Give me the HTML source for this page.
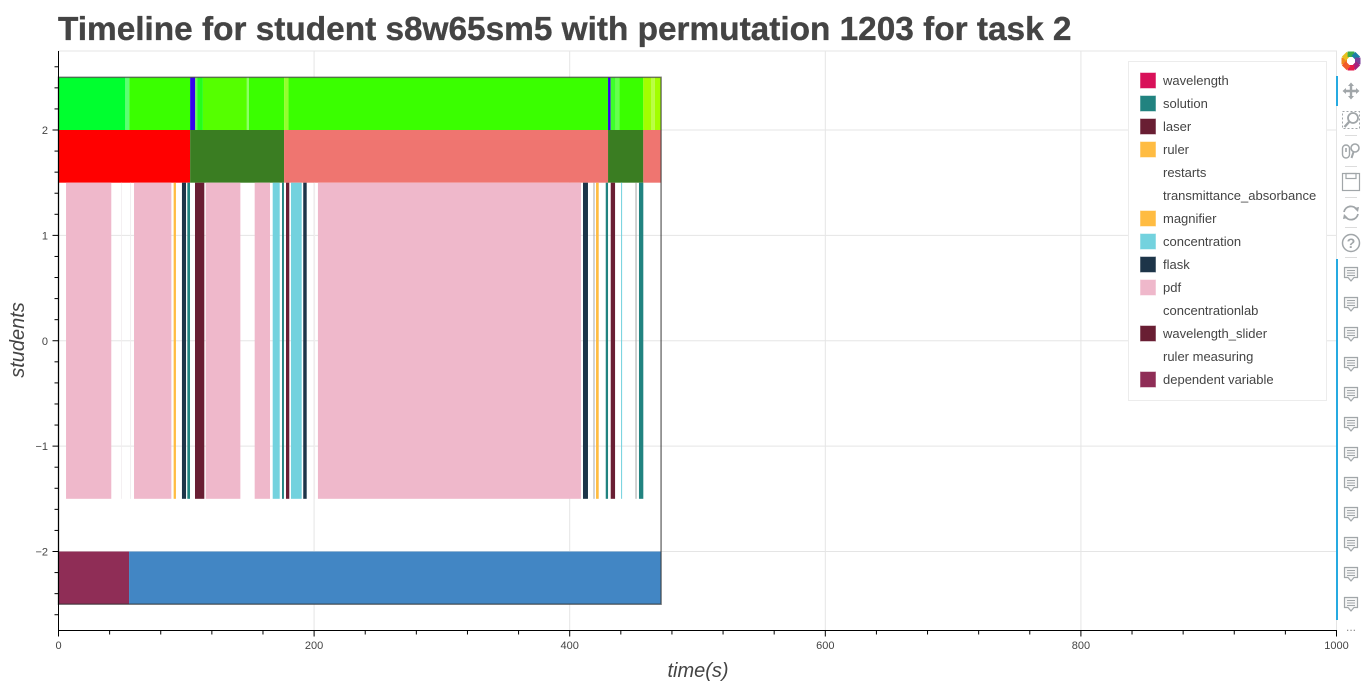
<!DOCTYPE html>
<html lang="en">
<head>
<meta charset="utf-8">
<title>Timeline for student s8w65sm5</title>
<style>
html,body{margin:0;padding:0;background:#fff;width:1366px;height:683px;overflow:hidden}
#chart{position:absolute;left:0;top:0;display:block}
text{font-family:"Liberation Sans",sans-serif}
</style>
</head>
<body>
<svg id="chart" width="1366" height="683" viewBox="0 0 1366 683" xmlns="http://www.w3.org/2000/svg">
<text x="58" y="40" font-size="33.36" font-weight="bold" fill="#444444" stroke="#444444" stroke-width="0.35">Timeline for student s8w65sm5 with permutation 1203 for task 2</text>
<g id="gridLayer"></g>
<g id="markLayer"></g>
<g id="axisLayer"></g>
<text x="698" y="677" font-size="20" font-style="italic" text-anchor="middle" fill="#444444">time(s)</text>
<text transform="translate(24 340) rotate(-90)" font-size="20" font-style="italic" text-anchor="middle" fill="#444444">students</text>
<g id="legendLayer"></g>
<g id="toolbar"></g>
</svg>
<script>
const xTickLabels = [0, 200, 400, 600, 800, 1000];
const yTickLabels = [-2, -1, 0, 1, 2];
const xMinorStep = 40;
const yMinorStep = 0.2;

const legendNames = ["wavelength","solution","laser","ruler","restarts","transmittance_absorbance","magnifier","concentration","flask","pdf","concentrationlab","wavelength_slider","ruler measuring","dependent variable"];

const activityStart = [5.9,59.1,115.2,153.5,203,49.1,56,200,418.6,451.5,90.1,420.6,96.6,191.5,410.4,100.8,174.9,428.2,454.2,106.8,432.1,178,167.6,181.9,440.2];
const activityEnd   = [41.3,88.3,142.3,165.5,408.8,49.7,56.7,200.8,419.4,452.3,91.9,422.7,99.8,194.2,414.3,102.9,176.4,430,457.6,114.1,435.5,180.6,173.1,190.3,441];
const activityName  = ["pdf","pdf","pdf","pdf","pdf","restarts","restarts","restarts","ruler measuring","ruler measuring","ruler","magnifier","flask","flask","flask","solution","solution","solution","solution","laser","laser","wavelength_slider","concentration","concentration","concentration"];

const familyStart = [0,103,176.5,430,457.6];
const familyEnd   = [103,176.5,430,457.6,471.5];
const familyName  = ["family-a","family-b","family-c","family-b","family-c"];

const stepStart = [0,52.3,55.4,103,107,108.5,113,147.4,149,176.5,180,430,432,436,439,457.6,463.6,466.7];
const stepEnd   = [52.3,55.4,103,107,108.5,113,147.4,149,176.5,180,430,432,436,439,457.6,463.6,466.7,471.5];
const stepName  = ["step-a","step-b","step-c","step-d","step-e","step-f","step-g","step-h","step-c","step-i","step-c","step-d","step-j","step-e","step-c","step-k","step-l","step-k"];

const taskStart = [0,55.2];
const taskEnd   = [55.2,471.5];
const taskName  = ["dependent variable","task-other"];

const colorOf = {
  "wavelength":"#d81159","solution":"#218380","laser":"#691e33","ruler":"#ffbc42","restarts":"#f1ecee",
  "transmittance_absorbance":"#ffffff","magnifier":"#ffbc42","concentration":"#73d2de","flask":"#1d3549",
  "pdf":"#efb8cb","concentrationlab":"#ffffff","wavelength_slider":"#691e33","ruler measuring":"#a9a9a9",
  "dependent variable":"#8f2d56","task-other":"#4286c4",
  "family-a":"#ff0000","family-b":"#3a7d22","family-c":"#ef7570",
  "step-a":"#00ff2f","step-b":"#5cff72","step-c":"#3aff00","step-d":"#3300ee","step-e":"#66ff4d","step-f":"#22ff1c",
  "step-g":"#55ff00","step-h":"#8cff66","step-i":"#92ff2e","step-j":"#3fff2a","step-k":"#a2ff00","step-l":"#baff44"
};
const noSwatch = ["restarts","transmittance_absorbance","concentrationlab","ruler measuring"];

const NS = "http://www.w3.org/2000/svg";
const plot = {left:58.5, right:1336.5, top:51, bottom:630.5};
function xScale(v){ return plot.left + v * 1.278; }
function yScale(v){ return 340.75 - v * 105.375; }
function make(tag, attrs, parent){
  const el = document.createElementNS(NS, tag);
  for (const k in attrs) el.setAttribute(k, attrs[k]);
  parent.appendChild(el);
  return el;
}
const gridLayer = document.getElementById("gridLayer");
const markLayer = document.getElementById("markLayer");
const axisLayer = document.getElementById("axisLayer");
const legendLayer = document.getElementById("legendLayer");
const toolbar = document.getElementById("toolbar");

/* frame + grid */
const frame = make("rect",{x:plot.left,y:plot.top,width:plot.right-plot.left,height:plot.bottom-plot.top,fill:"none",stroke:"#e5e5e5"},gridLayer);


xTickLabels.forEach(function(v){
  if (v === 0) return;
  const l = make("line",{x1:xScale(v),x2:xScale(v),y1:plot.top,y2:plot.bottom,stroke:"#e5e5e5"},gridLayer);
  
  
});
yTickLabels.forEach(function(v){
  const l = make("line",{x1:plot.left,x2:plot.right,y1:yScale(v),y2:yScale(v),stroke:"#e5e5e5"},gridLayer);
  
  
});

/* bars */
function drawRow(starts, ends, names, yLow, yHigh, rowName){
  starts.forEach(function(s,i){
    const r = make("rect",{x:xScale(s),width:xScale(ends[i])-xScale(s),y:yScale(yHigh),height:yScale(yLow)-yScale(yHigh),fill:colorOf[names[i]]},markLayer);
    
    
  });
}
drawRow(stepStart,stepEnd,stepName,2,2.5,'step-segment');
drawRow(familyStart,familyEnd,familyName,1.5,2,'family-segment');
drawRow(activityStart,activityEnd,activityName,-1.5,1.5,'activity-segment');
drawRow(taskStart,taskEnd,taskName,-2.5,-2,'task-segment');
const outline = make("rect",{x:xScale(0),y:yScale(2.5),width:xScale(471.5)-xScale(0),height:yScale(-2.5)-yScale(2.5),fill:"none",stroke:"#333333","stroke-opacity":"0.65","stroke-width":"1.5"},markLayer);



/* axes */
const xAxis = make("line",{x1:plot.left-0.5,x2:plot.right+0.5,y1:plot.bottom,y2:plot.bottom,stroke:"#000"},axisLayer);


const yAxis = make("line",{x1:plot.left,x2:plot.left,y1:plot.top,y2:plot.bottom,stroke:"#000"},axisLayer);


const xMinorCount = Math.round(1000 / xMinorStep);
for (let i = 0; i <= xMinorCount; i++){
  const v = i * xMinorStep;
  const major = xTickLabels.indexOf(v) >= 0;
  const t = make("line",{x1:xScale(v),x2:xScale(v),y1:plot.bottom,y2:plot.bottom+(major?6:4),stroke:"#000"},axisLayer);
  
  
}
for (let i = -13; i <= 13; i++){
  const v = i * yMinorStep;
  const major = i % 5 === 0;
  const t = make("line",{x1:plot.left,x2:plot.left-(major?6:4),y1:yScale(v),y2:yScale(v),stroke:"#000"},axisLayer);
  
  
}
xTickLabels.forEach(function(v){
  const t = make("text",{x:xScale(v),y:649,"font-size":"11","text-anchor":"middle",fill:"#444444"},axisLayer);
  t.textContent = String(v);
  
  
});
yTickLabels.forEach(function(v){
  const t = make("text",{x:48,y:yScale(v)+4,"font-size":"11","text-anchor":"end",fill:"#444444"},axisLayer);
  t.textContent = String(v).replace("-","\u2212");
  
  
});

/* legend */
const legendBox = make("rect",{x:1128.5,y:61.5,width:198,height:339,fill:"#fff",stroke:"#ececec"},legendLayer);


legendNames.forEach(function(name,i){
  const cy = 81 + i * 23;
  if (noSwatch.indexOf(name) < 0){
    const s = make("rect",{x:1140.5,y:cy-8,width:15,height:15,fill:colorOf[name],stroke:colorOf[name],"stroke-opacity":"0.5"},legendLayer);
    
    
  }
  const t = make("text",{x:1163,y:cy+4,"font-size":"13",fill:"#444444"},legendLayer);
  t.textContent = name;
  
  
});

/* toolbar */
const iconGrey = "#a1a6a9";
const activePan = make("rect",{x:1336,y:76,width:2,height:30,fill:"#26aae1"},toolbar);


const activeHover = make("rect",{x:1336,y:259,width:2,height:361,fill:"#26aae1"},toolbar);



const logo = make("g",{transform:"translate(1351 61)"},toolbar);


["#f1861d","#e8c01f","#3fae49","#1c7fa6","#7b3f98","#a4217f","#e6194b","#f15a29"].forEach(function(c,i){
  make("rect",{x:-3.4,y:-9.5,width:6.8,height:5.5,fill:c,transform:"rotate("+(i*45-90)+")"},logo);
});

const pan = make("g",{transform:"translate(1351 91)",stroke:iconGrey,fill:iconGrey},toolbar);


make("path",{d:"M-7 0H7M0 -7V7","stroke-width":"2.4",fill:"none"},pan);
make("path",{d:"M-3 -5L0 -8.5L3 -5ZM-3 5L0 8.5L3 5ZM-5 -3L-8.5 0L-5 3ZM5 -3L8.5 0L5 3Z",stroke:"none"},pan);

const boxZoom = make("g",{transform:"translate(1351 120)",fill:"none",stroke:iconGrey},toolbar);


make("rect",{x:-8.5,y:-8.5,width:17,height:17,"stroke-dasharray":"2 2"},boxZoom);
make("circle",{cx:2,cy:-2,r:5,"stroke-width":"1.8",fill:"#fff"},boxZoom);
make("line",{x1:-2,y1:2,x2:-6.5,y2:7,"stroke-width":"2.4"},boxZoom);

const wheel = make("g",{transform:"translate(1351 151)",fill:"none",stroke:iconGrey},toolbar);


make("rect",{x:-8.5,y:-6,width:7,height:13,rx:3.5,"stroke-width":"1.4"},wheel);
make("line",{x1:-5,y1:-3,x2:-5,y2:1,"stroke-width":"1.6"},wheel);
make("circle",{cx:4,cy:-3,r:4,"stroke-width":"1.6"},wheel);
make("line",{x1:2.5,y1:1,x2:0.5,y2:7,"stroke-width":"2"},wheel);

const save = make("g",{transform:"translate(1351 182)",fill:"none",stroke:iconGrey},toolbar);


make("rect",{x:-8.5,y:-8.5,width:17,height:17,"stroke-width":"1.2"},save);
make("rect",{x:-5,y:-8.5,width:10,height:5,"stroke-width":"1.2"},save);

const reset = make("g",{transform:"translate(1351 213)",fill:"none",stroke:iconGrey},toolbar);


make("path",{d:"M-7 -1A7 7 0 0 1 6 -3M7 1A7 7 0 0 1 -6 3","stroke-width":"1.8"},reset);
make("path",{d:"M3 -5L8 -6L7 -1ZM-3 5L-8 6L-7 1Z",fill:iconGrey,stroke:"none"},reset);

const help = make("g",{transform:"translate(1351 243)"},toolbar);


make("circle",{cx:0,cy:0,r:8.5,fill:"none",stroke:iconGrey,"stroke-width":"1.5"},help);
const q = make("text",{x:0,y:5,"font-size":"14","font-weight":"bold","text-anchor":"middle",fill:iconGrey},help);
q.textContent = "?";

[[1345,1357,136],[1345,1357,167],[1345,1357,198],[1345,1357,228],[1345,1357,258]].forEach(function(p){
  const s = make("line",{x1:p[0],x2:p[1],y1:p[2]-0.5,y2:p[2]-0.5,stroke:"#dcdcdc"},toolbar);
  
  
});

for (let i = 0; i < 12; i++){
  const h = make("g",{transform:"translate(1351 "+(274+i*30)+")",fill:"none",stroke:iconGrey},toolbar);
  
  
  make("path",{d:"M-6.5 -6.5H6.5V3.5H3L0 7L-3 3.5H-6.5Z","stroke-width":"1.2",fill:"#f6f6f6"},h);
  make("path",{d:"M-4 -3.5H4M-4 -1H4M-4 1.5H4","stroke-width":"1"},h);
}
const more = make("text",{x:1351,y:631,"font-size":"12","text-anchor":"middle",fill:"#888888"},toolbar);
more.textContent = "...";


</script>
</body>
</html>
